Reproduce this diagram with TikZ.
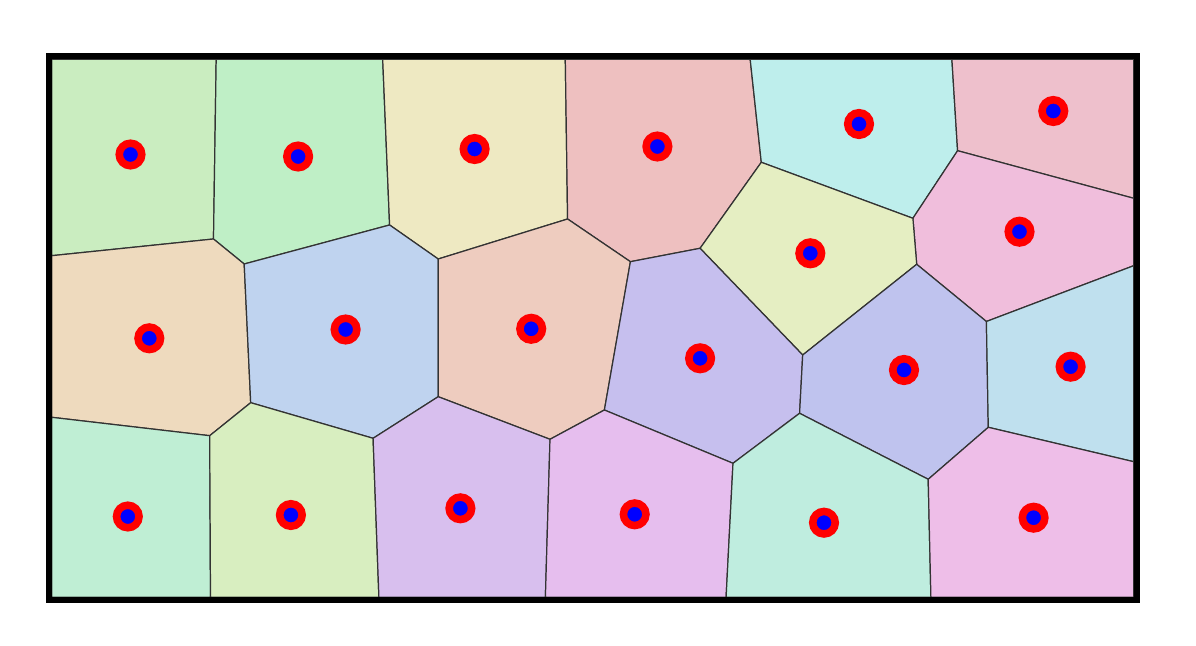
\documentclass[tikz,border=0pt]{standalone}
\usepackage{tikz}
\definecolor{c1}{HTML}{CAEDC0}
\definecolor{c2}{HTML}{BFEFC6}
\definecolor{c3}{HTML}{EEE9C2}
\definecolor{c4}{HTML}{EEC0C0}
\definecolor{c5}{HTML}{BEEEEC}
\definecolor{c6}{HTML}{EEC0CC}
\definecolor{c7}{HTML}{F0BEDC}
\definecolor{c8}{HTML}{E5EEC2}
\definecolor{c9}{HTML}{EEDABE}
\definecolor{c10}{HTML}{BFD3EF}
\definecolor{c11}{HTML}{EECCBF}
\definecolor{c12}{HTML}{C6BFEE}
\definecolor{c13}{HTML}{BFC3EE}
\definecolor{c14}{HTML}{BFE0EE}
\definecolor{c15}{HTML}{BFEED4}
\definecolor{c16}{HTML}{D8EEC0}
\definecolor{c17}{HTML}{D8BFEE}
\definecolor{c18}{HTML}{E6BEEE}
\definecolor{c19}{HTML}{BFEDDF}
\definecolor{c20}{HTML}{EEBEE8}
\definecolor{edgecol}{HTML}{333333}
\tikzset{
  cell/.style={draw=edgecol,line width=0.35pt,line join=round},
  frame/.style={draw=black,line width=1.7pt},
  site/.style={circle,draw=red,fill=blue,line width=2.15pt,minimum size=0.225cm,inner sep=0pt}
}
\begin{document}
\begin{tikzpicture}[x=0.01cm,y=-0.01cm]
\useasboundingbox (0,0) rectangle (1196,646);
% border vertices
\coordinate (TL) at (51.7,59.3);
\coordinate (TR) at (1133.7,59.3);
\coordinate (BL) at (51.7,597.3);
\coordinate (BR) at (1133.7,597.3);
\coordinate (T1) at (216.2,59.3);
\coordinate (T2) at (382.7,59.3);
\coordinate (T3) at (565.3,59.3);
\coordinate (T4) at (750.2,59.3);
\coordinate (T5) at (951.9,59.3);
\coordinate (L1) at (51.7,255.7);
\coordinate (L2) at (51.7,417.3);
\coordinate (R1) at (1133.7,198.3);
\coordinate (R2) at (1133.7,265.7);
\coordinate (R3) at (1133.7,461.7);
\coordinate (B1) at (210.5,597.3);
\coordinate (B2) at (378.9,597.3);
\coordinate (B3) at (545.4,597.3);
\coordinate (B4) at (726.1,597.3);
\coordinate (B5) at (930.9,597.3);
% inner vertices
\coordinate (a) at (213.5,239);
\coordinate (b) at (244.2,264);
\coordinate (c) at (389.6,225);
\coordinate (d) at (438.2,259);
\coordinate (e) at (567.6,219);
\coordinate (f) at (630.4,261.7);
\coordinate (g) at (700.1,248.3);
\coordinate (h) at (761.3,162.3);
\coordinate (i) at (912.9,218.3);
\coordinate (j) at (957.6,150.7);
\coordinate (k) at (916.7,264.3);
\coordinate (l) at (986.4,321.5);
\coordinate (m) at (802.7,355);
\coordinate (n) at (799.6,413.3);
\coordinate (o) at (733,463.3);
\coordinate (p) at (604.4,410);
\coordinate (q) at (928.2,479.3);
\coordinate (r) at (988.3,427.3);
\coordinate (s) at (550,439.3);
\coordinate (t) at (438.2,396.7);
\coordinate (u) at (373.1,438.3);
\coordinate (v) at (250.7,402.7);
\coordinate (w) at (209.7,435.7);
% cells
\path[cell,fill=c1] (TL) -- (T1) -- (a) -- (L1) -- cycle;
\path[cell,fill=c2] (T1) -- (T2) -- (c) -- (b) -- (a) -- cycle;
\path[cell,fill=c3] (T2) -- (T3) -- (e) -- (d) -- (c) -- cycle;
\path[cell,fill=c4] (T3) -- (T4) -- (h) -- (g) -- (f) -- (e) -- cycle;
\path[cell,fill=c5] (T4) -- (T5) -- (j) -- (i) -- (h) -- cycle;
\path[cell,fill=c6] (T5) -- (TR) -- (R1) -- (j) -- cycle;
\path[cell,fill=c7] (j) -- (R1) -- (R2) -- (l) -- (k) -- (i) -- cycle;
\path[cell,fill=c8] (h) -- (i) -- (k) -- (m) -- (g) -- cycle;
\path[cell,fill=c9] (L1) -- (a) -- (b) -- (v) -- (w) -- (L2) -- cycle;
\path[cell,fill=c10] (b) -- (c) -- (d) -- (t) -- (u) -- (v) -- cycle;
\path[cell,fill=c11] (d) -- (e) -- (f) -- (p) -- (s) -- (t) -- cycle;
\path[cell,fill=c12] (f) -- (g) -- (m) -- (n) -- (o) -- (p) -- cycle;
\path[cell,fill=c13] (k) -- (l) -- (r) -- (q) -- (n) -- (m) -- cycle;
\path[cell,fill=c14] (l) -- (R2) -- (R3) -- (r) -- cycle;
\path[cell,fill=c15] (L2) -- (w) -- (B1) -- (BL) -- cycle;
\path[cell,fill=c16] (w) -- (v) -- (u) -- (B2) -- (B1) -- cycle;
\path[cell,fill=c17] (u) -- (t) -- (s) -- (B3) -- (B2) -- cycle;
\path[cell,fill=c18] (s) -- (p) -- (o) -- (B4) -- (B3) -- cycle;
\path[cell,fill=c19] (o) -- (n) -- (q) -- (B5) -- (B4) -- cycle;
\path[cell,fill=c20] (q) -- (r) -- (R3) -- (BR) -- (B5) -- cycle;
% frame
\draw[frame] (48.7,56.2) rectangle (1136.6,600.3);
% sites
\node[site] (s1) at (130.5,154.5) {};
\node[site] (s2) at (298.1,156.5) {};
\node[site] (s3) at (474.6,149) {};
\node[site] (s4) at (657.4,146.5) {};
\node[site] (s5) at (859,124) {};
\node[site] (s6) at (1053.3,111) {};
\node[site] (s7) at (1019.5,231.7) {};
\node[site] (s8) at (810.3,253.3) {};
\node[site] (s9) at (149.3,338.3) {};
\node[site] (s10) at (345.6,329.5) {};
\node[site] (s11) at (531.2,328.8) {};
\node[site] (s12) at (700.1,358.3) {};
\node[site] (s13) at (904,370) {};
\node[site] (s14) at (1070.6,366.7) {};
\node[site] (s15) at (127.8,516.5) {};
\node[site] (s16) at (290.9,515) {};
\node[site] (s17) at (460.4,508.3) {};
\node[site] (s18) at (634.7,514.3) {};
\node[site] (s19) at (824,522.7) {};
\node[site] (s20) at (1033.6,517.7) {};
\end{tikzpicture}
\end{document}
